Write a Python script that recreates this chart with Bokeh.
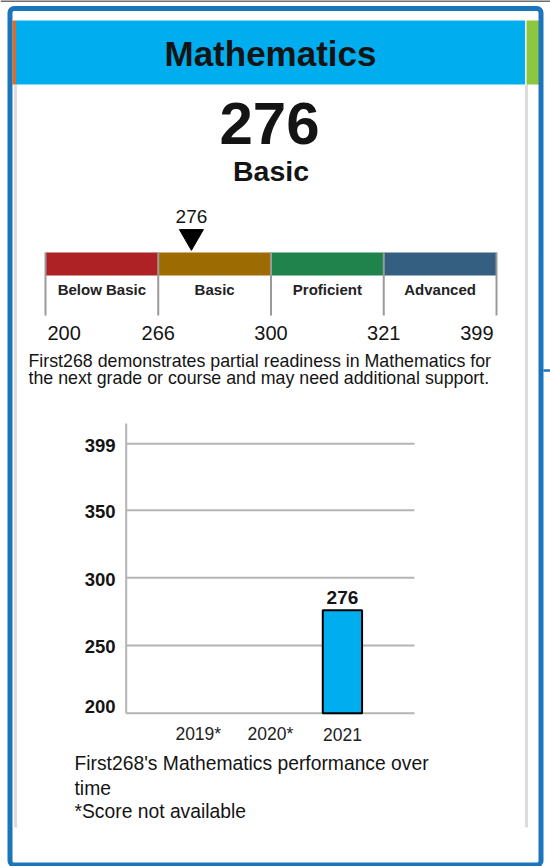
from bokeh.plotting import figure
from bokeh.models import Range1d, ColumnDataSource
from bokeh.core.properties import value
from bokeh.embed import file_html
from bokeh.resources import INLINE

# ---- report data -------------------------------------------------------
student = "First268"
subject = "Mathematics"
score = 276
level_names = ["Below Basic", "Basic", "Proficient", "Advanced"]
level_colors = ["#AE2124", "#9C6B02", "#21834C", "#355F80"]
cut_scores = [200, 266, 300, 321, 399]
years = ["2019*", "2020*", "2021"]
year_scores = [None, None, 276]
score_ticks = [200, 250, 300, 350, 399]

# ---- page geometry (pixels) -------------------------------------------
W, H = 550, 866
FONT = "Liberation Sans"
BLUE = "#1B75BB"
HEADER = "#00AEEF"
INK = "#141414"
MID = 0.36  # baseline-to-middle distance, in ems

p = figure(width=W, height=H, output_backend="svg", toolbar_location=None,
           x_range=Range1d(0, W), y_range=Range1d(H, 0),
           min_border=0, outline_line_color=None, background_fill_color="white")
p.axis.visible = False
p.grid.visible = False

# scale bar: each performance level gets an equal-width band
BAND_L, BAND_R = 45, 496
band_unit = (BAND_R - BAND_L) / len(level_names)
p.extra_x_ranges["level"] = Range1d(-BAND_L / band_unit, (W - BAND_L) / band_unit)

# trend chart: slots from -1 to len(years), scores 200..399
CH_L, CH_R = 125.7, 414.0
year_unit = (CH_R - CH_L) / (len(years) + 1)
p.extra_x_ranges["year"] = Range1d(-1 - CH_L / year_unit, -1 + (W - CH_L) / year_unit)
Y_LO, Y_HI = 712.7, 443.3
px_per = (Y_LO - Y_HI) / (score_ticks[-1] - score_ticks[0])
p.extra_y_ranges["score"] = Range1d(score_ticks[0] - (H - Y_LO) / px_per,
                                    score_ticks[0] + Y_LO / px_per)
CHART_TOP = 414


def txt(x, y, s, size, bold=False, align="center", color=INK, **kw):
    """Text whose baseline sits at y (page pixels)."""
    p.text(x=[x], y=[y - MID * size], text=[s], text_font=value(FONT),
           text_font_size=f"{size}px",
           text_font_style="bold" if bold else "normal",
           text_align=align, text_baseline="middle",
           text_color=color, **kw)


# ---- frame and header ---------------------------------------------------
p.segment(x0=[0], x1=[W], y0=[0.5], y1=[0.5], line_color="#3a3a3a", line_width=1.5)
p.segment(x0=[15, 526], x1=[15, 526], y0=[84, 84], y1=[827, 827],
          line_color="#dcdcdc", line_width=3)
p.quad(left=[15.5], right=[524.5], top=[20], bottom=[84], fill_color=HEADER, line_color=None)
p.quad(left=[12], right=[15.5], top=[20], bottom=[84], fill_color="#E4681F", line_color=None)
p.quad(left=[526], right=[538.5], top=[20], bottom=[84], fill_color="#8DC63F", line_color=None)
p.quad(left=[9.5], right=[540.5], top=[8], bottom=[864.5], fill_color=None,
       line_color=BLUE, line_width=5, border_radius=4)
p.segment(x0=[543], x1=[W], y0=[370], y1=[370], line_color=BLUE, line_width=2.5)

txt(270, 66, subject, 35, bold=True)
level = next(i for i in range(len(level_names)) if cut_scores[i] <= score < cut_scores[i + 1])
txt(269, 145, str(score), 60, bold=True)
txt(270.5, 180.7, level_names[level], 28.5, bold=True)

# ---- performance-level scale bar ---------------------------------------
idx = list(range(len(level_names)))
p.quad(left=idx, right=[i + 1 for i in idx], top=252, bottom=275,
       fill_color=level_colors, line_color=None, x_range_name="level")
edges = list(range(len(cut_scores)))
p.segment(x0=edges, x1=edges, y0=252, y1=315, line_color="#9a9a9a",
          line_width=2, x_range_name="level")
p.text(x=[i + 0.5 for i in idx], y=[294 - MID * 15] * len(idx), text=level_names,
       text_font=value(FONT), text_font_size="15px", text_font_style="bold",
       text_align="center", text_baseline="middle", text_color="#222222",
       x_range_name="level")
cut_src = ColumnDataSource(dict(
    x=edges, y=[340 - MID * 20] * len(edges), text=[str(c) for c in cut_scores],
    align=["left"] + ["center"] * (len(edges) - 2) + ["right"],
    dx=[2] + [0] * (len(edges) - 2) + [-3]))
p.text(x="x", y="y", text="text", source=cut_src, text_align="align", x_offset="dx",
       text_font=value(FONT), text_font_size="20px", text_baseline="middle",
       text_color=INK, x_range_name="level")

# marker position inside its level band
marker_x = level + (score - cut_scores[level]) / (cut_scores[level + 1] - cut_scores[level])
p.scatter(x=[marker_x], y=[236], marker="inverted_triangle", size=24,
          fill_color="black", line_color="black", x_range_name="level")
txt(marker_x, 222.5, str(score), 19, x_range_name="level")

txt(28, 366.5, f"{student} demonstrates partial readiness in {subject} for", 17.8, align="left")
txt(28, 384, "the next grade or course and may need additional support.", 17.8, align="left")

# ---- score trend chart --------------------------------------------------
n = len(years)
p.segment(x0=[-1] * len(score_ticks), x1=[n] * len(score_ticks),
          y0=score_ticks, y1=score_ticks, line_color="#b4b4b4", line_width=2,
          x_range_name="year", y_range_name="score")
p.segment(x0=[-1], x1=[-1], y0=[score_ticks[0]], y1=[CHART_TOP], line_color="#b4b4b4",
          line_width=2, x_range_name="year", y_range_name="score")
tick_src = ColumnDataSource(dict(
    x=[-1] * len(score_ticks), y=score_ticks, text=[str(t) for t in score_ticks],
    dy=[-MID * 18.5] + [8 - MID * 18.5] * (len(score_ticks) - 1)))
p.text(x="x", y="y", text="text", source=tick_src, y_offset="dy", x_offset=-10.7,
       text_font=value(FONT), text_font_size="18.5px", text_font_style="bold",
       text_align="right", text_baseline="middle", text_color=INK,
       x_range_name="year", y_range_name="score")

have = [(i, v) for i, v in enumerate(year_scores) if v is not None]
bar_x = [i for i, _ in have]
bar_v = [v for _, v in have]
p.vbar(x=bar_x, top=bar_v, bottom=score_ticks[0], width=0.545,
       fill_color=HEADER, line_color="black", line_width=2,
       x_range_name="year", y_range_name="score")
p.text(x=bar_x, y=bar_v, text=[str(v) for v in bar_v], y_offset=-6 - MID * 19,
       text_font=value(FONT), text_font_size="19px", text_font_style="bold",
       text_align="center", text_baseline="middle", text_color=INK,
       x_range_name="year", y_range_name="score")
p.text(x=list(range(n)), y=[score_ticks[0]] * n, text=years, y_offset=27.3 - MID * 17.5,
       text_font=value(FONT), text_font_size="17.5px", text_align="center",
       text_baseline="middle", text_color="#222222",
       x_range_name="year", y_range_name="score")

txt(74, 770, f"{student}'s {subject} performance over", 19.3, align="left")
txt(74, 794.5, "time", 19.3, align="left")
txt(74, 818, "*Score not available", 19.3, align="left")

open("out.html", "w").write(file_html(p, INLINE))
